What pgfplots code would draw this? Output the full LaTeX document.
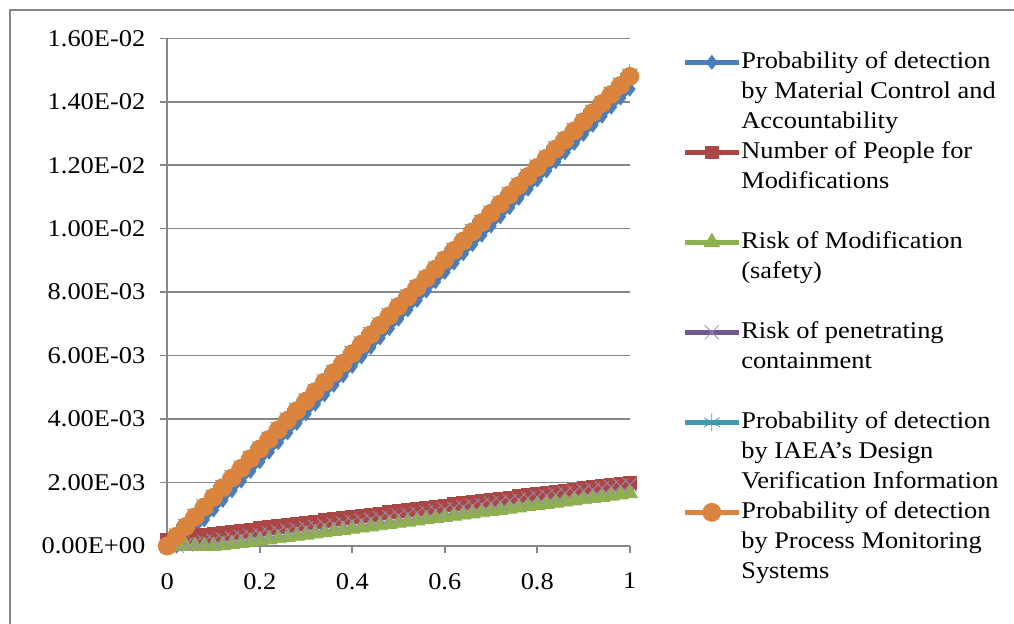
\documentclass[border=0pt]{standalone}
\usepackage{pgfplots}
\pgfplotsset{compat=1.18}
\usepackage{pgfplotstable}
\usepackage{fontspec}
\setmainfont{Liberation Serif}[FakeStretch=1.1]
\definecolor{sblue}{HTML}{4A7EBB}
\definecolor{sred}{HTML}{AA4643}
\definecolor{sgreen}{HTML}{8EB050}
\definecolor{spurple}{HTML}{71588F}
\definecolor{scyan}{HTML}{4198AF}
\definecolor{sorange}{HTML}{DB843D}
\definecolor{gridgray}{HTML}{868686}

% values in units of 1e-3
\pgfplotstableread{
x blue red green purple cyan orange
0.00 0.000 0.200 0.000 0.000 0.050 0.000
0.02 0.000 0.236 0.000 0.009 0.408 0.308
0.04 0.215 0.272 0.000 0.048 0.715 0.615
0.06 0.522 0.308 0.000 0.088 1.022 0.922
0.08 0.828 0.344 0.000 0.127 1.328 1.228
0.10 1.134 0.380 0.000 0.166 1.634 1.534
0.12 1.439 0.416 0.023 0.205 1.939 1.839
0.14 1.744 0.452 0.060 0.244 2.244 2.144
0.16 2.049 0.488 0.098 0.284 2.549 2.449
0.18 2.353 0.524 0.135 0.323 2.853 2.753
0.20 2.656 0.560 0.172 0.362 3.156 3.056
0.22 2.959 0.596 0.209 0.401 3.459 3.359
0.24 3.261 0.632 0.246 0.440 3.761 3.661
0.26 3.563 0.668 0.284 0.480 4.063 3.963
0.28 3.865 0.704 0.321 0.519 4.365 4.265
0.30 4.166 0.740 0.358 0.558 4.666 4.566
0.32 4.467 0.776 0.395 0.597 4.967 4.867
0.34 4.767 0.812 0.432 0.636 5.267 5.167
0.36 5.066 0.848 0.470 0.676 5.566 5.466
0.38 5.365 0.884 0.507 0.715 5.865 5.765
0.40 5.664 0.920 0.544 0.754 6.164 6.064
0.42 5.962 0.956 0.581 0.793 6.462 6.362
0.44 6.260 0.992 0.618 0.832 6.760 6.660
0.46 6.557 1.028 0.656 0.872 7.057 6.957
0.48 6.854 1.064 0.693 0.911 7.354 7.254
0.50 7.150 1.100 0.730 0.950 7.650 7.550
0.52 7.446 1.136 0.767 0.989 7.946 7.846
0.54 7.741 1.172 0.804 1.028 8.241 8.141
0.56 8.036 1.208 0.842 1.068 8.536 8.436
0.58 8.330 1.244 0.879 1.107 8.830 8.730
0.60 8.624 1.280 0.916 1.146 9.124 9.024
0.62 8.917 1.316 0.953 1.185 9.417 9.317
0.64 9.210 1.352 0.990 1.224 9.710 9.610
0.66 9.503 1.388 1.028 1.264 10.003 9.903
0.68 9.795 1.424 1.065 1.303 10.295 10.195
0.70 10.086 1.460 1.102 1.342 10.586 10.486
0.72 10.377 1.496 1.139 1.381 10.877 10.777
0.74 10.667 1.532 1.176 1.420 11.167 11.067
0.76 10.957 1.568 1.214 1.460 11.457 11.357
0.78 11.247 1.604 1.251 1.499 11.747 11.647
0.80 11.536 1.640 1.288 1.538 12.036 11.936
0.82 11.825 1.676 1.325 1.577 12.325 12.225
0.84 12.113 1.712 1.362 1.616 12.613 12.513
0.86 12.400 1.748 1.400 1.656 12.900 12.800
0.88 12.687 1.784 1.437 1.695 13.187 13.087
0.90 12.974 1.820 1.474 1.734 13.474 13.374
0.92 13.260 1.856 1.511 1.773 13.760 13.660
0.94 13.546 1.892 1.548 1.812 14.046 13.946
0.96 13.831 1.928 1.586 1.852 14.331 14.231
0.98 14.116 1.964 1.623 1.891 14.616 14.516
1.00 14.400 2.000 1.660 1.930 14.900 14.800
}\datatable

\newcommand{\more}[1]{\addlegendimage{empty legend}\addlegendentry{#1}}

\begin{document}
\begin{tikzpicture}
\path[use as bounding box] (-83.65pt,-38.5pt) rectangle ++(507pt,311.5pt);
\draw[gridgray, line width=1.3pt] (-78.65pt,-60pt) -- (-78.65pt,268pt) -- (450pt,268pt);
\begin{axis}[
  scale only axis, width=231.25pt, height=253.85pt,
  at={(0,0)}, anchor=south west,
  xmin=0, xmax=1, ymin=0, ymax=16,
  clip=false,
  axis x line*=bottom, axis y line*=left,
  axis line style={gridgray, line width=0.8pt, -},
  xtick={0,0.2,0.4,0.6,0.8,1},
  xticklabels={0,0.2,0.4,0.6,0.8,1},
  ytick={0,2,4,6,8,10,12,14,16},
  yticklabels={0.00E+00,2.00E-03,4.00E-03,6.00E-03,8.00E-03,1.00E-02,1.20E-02,1.40E-02,1.60E-02},
  ymajorgrids,
  grid style={gridgray, line width=0.8pt},
  tick style={gridgray, line width=0.8pt},
  tick align=outside,
  major tick length=3.5pt,
  tick label style={font=\fontsize{12}{14}\selectfont, black},
  yticklabel style={anchor=east, xshift=-4pt},
  xticklabel style={anchor=north, yshift=-6.5pt},
  legend style={at={(1.1127,0.983)}, anchor=north west, draw=none, fill=none,
    inner sep=0pt, row sep=0pt, column sep=0pt,
    font=\fontsize{12}{15}\selectfont,
    nodes={inner sep=0pt, outer sep=0pt, text height=10.5pt, text depth=4.5pt}},
  legend cell align=left,
  legend image code/.code={\draw[mark repeat=2, mark phase=2] plot coordinates {(0pt,0pt) (13.5pt,0pt) (27pt,0pt)};},
  every axis plot/.append style={line width=2.5pt, line join=round},
]
\addplot[sblue, mark=diamond*, mark size=3.5pt, mark options={solid, fill=sblue, line width=0.4pt}] table[x=x, y=blue]{\datatable};
\addlegendentry{Probability of detection}
\more{by Material Control and}
\more{Accountability}
\addplot[sred, mark=square*, mark size=3.2pt, mark options={solid, fill=sred, line width=0.4pt}] table[x=x, y=red]{\datatable};
\addlegendentry{Number of People for}
\more{Modifications}
\more{\mbox{}}
\addplot[sgreen, mark=triangle*, mark size=4.5pt, mark options={solid, fill=sgreen, line width=0.4pt}] table[x=x, y=green]{\datatable};
\addlegendentry{Risk of Modification}
\more{(safety)}
\more{\mbox{}}
\addplot[spurple, mark=x, mark size=5pt, mark options={solid, spurple!70, line width=0.4pt}] table[x=x, y=purple]{\datatable};
\addlegendentry{Risk of penetrating}
\more{containment}
\more{\mbox{}}
\addplot[scyan, mark=asterisk, mark size=4.5pt, mark options={solid, scyan, line width=0.4pt}] table[x=x, y=cyan]{\datatable};
\addlegendentry{Probability of detection}
\more{by IAEA's Design}
\more{Verification Information}
\addplot[sorange, mark=*, mark size=4.5pt, mark options={solid, fill=sorange, line width=0.4pt}] table[x=x, y=orange]{\datatable};
\addlegendentry{Probability of detection}
\more{by Process Monitoring}
\more{Systems}
\end{axis}
\end{tikzpicture}
\end{document}
